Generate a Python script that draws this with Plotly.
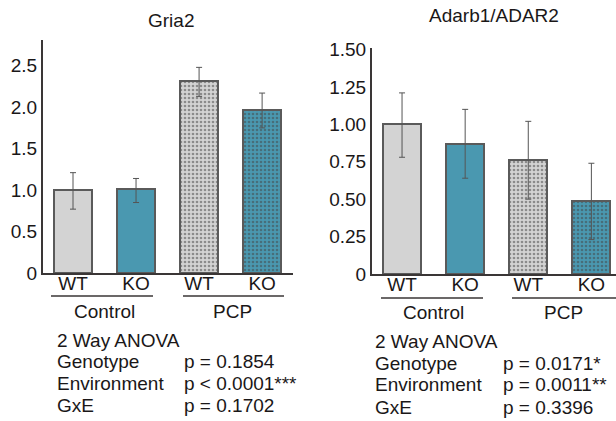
import plotly.graph_objects as go

W, H = 616, 421

# ---------------- data ----------------
genotypes = ["WT", "KO", "WT", "KO"]
environments = ["Control", "PCP"]
bar_pos = [0, 1, 2, 3]

gria2_mean = [1.00, 1.01, 2.31, 1.97]
gria2_err_plus = [0.21, 0.13, 0.17, 0.20]
gria2_err_minus = [0.23, 0.16, 0.18, 0.22]
gria2_ticks = [0, 0.5, 1.0, 1.5, 2.0, 2.5]
gria2_ticktext = ["0", "0.5", "1.0", "1.5", "2.0", "2.5"]

adar_mean = [1.00, 0.87, 0.76, 0.485]
adar_err_plus = [0.21, 0.23, 0.26, 0.255]
adar_err_minus = [0.22, 0.23, 0.26, 0.255]
adar_ticks = [0, 0.25, 0.5, 0.75, 1.0, 1.25, 1.5]
adar_ticktext = ["0", "0.25", "0.50", "0.75", "1.00", "1.25", "1.50"]

anova_terms = ["Genotype", "Environment", "GxE"]
gria2_p = ["p = 0.1854", "p < 0.0001***", "p = 0.1702"]
adar_p = ["p = 0.0171*", "p = 0.0011**", "p = 0.3396"]

# ---------------- style ----------------
FONT = "Liberation Sans, Arial, sans-serif"
TXT = "#1a1718"
AX = "#3a3636"
fill = ["#d3d3d3", "#4a98b0", "#d3d3d3", "#4a98b0"]
dotc = ["#d3d3d3", "#4a98b0", "#7d7d7d", "#2b6579"]
shapes_pat = ["", "", ".", "."]
FS = 19


def px(x):
    return x / W


def py(y):
    return 1 - y / H


fig = go.Figure()


def add_bars(mean, ep, em, xa, ya):
    fig.add_trace(go.Bar(
        x=bar_pos, y=mean, width=0.6,
        xaxis=xa, yaxis=ya,
        marker=dict(color=fill, line=dict(color="#5a5a5a", width=2),
                    pattern=dict(shape=shapes_pat, fgcolor=dotc,
                                 size=4, solidity=0.35, fillmode="overlay")),
        error_y=dict(type="data", symmetric=False, array=ep, arrayminus=em,
                     color="#555555", thickness=1, width=3),
        showlegend=False, hoverinfo="skip"))


add_bars(gria2_mean, gria2_err_plus, gria2_err_minus, "x", "y")
add_bars(adar_mean, adar_err_plus, adar_err_minus, "x2", "y2")

axis_common = dict(showline=True, linecolor=AX, linewidth=2, showgrid=False,
                   zeroline=False, ticks="", automargin=False,
                   tickfont=dict(family=FONT, size=FS, color=TXT))

fig.update_layout(
    width=W, height=H, margin=dict(l=0, r=0, t=0, b=0, autoexpand=False),
    paper_bgcolor="white", plot_bgcolor="white", bargap=0,
    font=dict(family=FONT, size=FS, color=TXT),
    xaxis=dict(domain=[px(43), px(293)], range=[-0.476, 3.49], anchor="y",
               tickvals=bar_pos, ticktext=genotypes, ticklabelstandoff=-8, **axis_common),
    yaxis=dict(domain=[py(273), py(40)], range=[0, 2.81], anchor="x",
               tickvals=gria2_ticks, ticktext=gria2_ticktext, **axis_common),
    xaxis2=dict(domain=[px(372), 1.0], range=[-0.476, 3.39], anchor="y2",
                tickvals=bar_pos, ticktext=genotypes, ticklabelstandoff=-8, **axis_common),
    yaxis2=dict(domain=[py(274), py(48)], range=[0, 1.51], anchor="x2",
                tickvals=adar_ticks, ticktext=adar_ticktext, **axis_common),
)

ann = []
shp = []

# titles
ann.append(dict(text="Gria2", x=px(171), y=py(20), xref="paper", yref="paper",
                showarrow=False, xanchor="center", yanchor="middle"))
ann.append(dict(text="Adarb1/ADAR2", x=px(494), y=py(15), xref="paper", yref="paper",
                showarrow=False, xanchor="center", yanchor="middle"))

# group underlines and labels
groups_px = [
    # (x0, x1, y_line, label_x, label_y, label)
    (51, 153, 296, 104, 311, environments[0]),
    (183, 284, 296, 233, 311, environments[1]),
    (381, 483, 298, 433, 312, environments[0]),
    (512, 616, 298, 563, 312, environments[1]),
]
for x0, x1, yl, lx, ly, lab in groups_px:
    shp.append(dict(type="line", xref="paper", yref="paper", x0=px(x0), x1=px(x1),
                    y0=py(yl), y1=py(yl), line=dict(color=AX, width=1.5)))
    ann.append(dict(text=lab, x=px(lx), y=py(ly), xref="paper", yref="paper",
                    showarrow=False, xanchor="center", yanchor="middle"))

# ANOVA text blocks
for (x_lab, x_p, ys, pvals) in [
    (55, 182, [340, 361, 383, 405], gria2_p),
    (373, 501, [341, 363, 384, 407], adar_p),
]:
    ann.append(dict(text="2 Way ANOVA", x=px(x_lab), y=py(ys[0]), xref="paper", yref="paper",
                    showarrow=False, xanchor="left", yanchor="middle"))
    for term, pv, yy in zip(anova_terms, pvals, ys[1:]):
        ann.append(dict(text=term, x=px(x_lab), y=py(yy), xref="paper", yref="paper",
                        showarrow=False, xanchor="left", yanchor="middle"))
        ann.append(dict(text=pv, x=px(x_p), y=py(yy), xref="paper", yref="paper",
                        showarrow=False, xanchor="left", yanchor="middle"))

fig.update_layout(annotations=ann, shapes=shp)

fig.write_html("out.html", config={"displayModeBar": False},
               post_script="document.body.style.margin='0';document.body.style.overflow='hidden';")
